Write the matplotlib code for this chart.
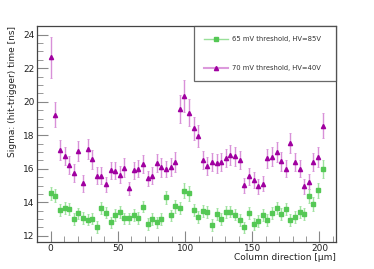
import matplotlib.pyplot as plt
import numpy as np
from matplotlib.ticker import MultipleLocator

# column positions [um]
pos = np.arange(60) * 3.43

sigma_65 = [14.53, 14.39, 13.53, 13.64, 13.61, 13.00, 13.34, 13.06, 12.97, 13.03,
            12.54, 13.67, 13.39, 12.80, 13.24, 13.41, 13.04, 13.04, 13.26, 13.06,
            13.75, 12.71, 13.00, 12.80, 13.00, 14.29, 13.22, 13.76, 13.66, 14.69,
            14.53, 13.53, 13.13, 13.49, 13.41, 12.66, 13.31, 13.01, 13.41, 13.45,
            13.27, 12.93, 12.50, 13.35, 12.71, 12.87, 13.25, 12.95, 13.37, 13.65,
            13.29, 13.59, 12.95, 13.11, 13.43, 13.29, 14.37, 13.91, 14.73, 16.00]
err_65 = [0.40, 0.40, 0.35, 0.35, 0.35, 0.35, 0.35, 0.35, 0.35, 0.35,
          0.35, 0.35, 0.35, 0.35, 0.35, 0.35, 0.35, 0.35, 0.35, 0.35,
          0.35, 0.35, 0.35, 0.35, 0.35, 0.40, 0.35, 0.40, 0.35, 0.45,
          0.45, 0.35, 0.35, 0.35, 0.35, 0.35, 0.35, 0.35, 0.35, 0.35,
          0.35, 0.35, 0.35, 0.35, 0.35, 0.35, 0.35, 0.35, 0.35, 0.35,
          0.35, 0.35, 0.35, 0.35, 0.35, 0.35, 0.40, 0.40, 0.45, 0.55]

sigma_70 = [22.65, 19.22, 17.12, 16.78, 16.24, 15.76, 17.06, 15.13, 17.16, 16.56,
            15.58, 15.58, 15.07, 15.92, 15.88, 15.65, 16.07, 14.83, 15.90, 16.00,
            16.28, 15.43, 15.59, 16.33, 16.08, 15.99, 16.12, 16.42, 19.58, 20.34,
            19.34, 18.41, 17.97, 16.52, 16.16, 16.40, 16.32, 16.42, 16.64, 16.84,
            16.74, 16.53, 15.02, 15.56, 15.33, 14.97, 15.11, 16.62, 16.73, 16.99,
            16.44, 16.00, 17.56, 16.42, 16.00, 14.95, 15.22, 16.39, 16.69, 18.57]
err_70 = [1.23, 0.75, 0.58, 0.55, 0.55, 0.55, 0.60, 0.50, 0.60, 0.55,
          0.50, 0.50, 0.45, 0.50, 0.50, 0.50, 0.55, 0.40, 0.50, 0.50,
          0.55, 0.45, 0.50, 0.55, 0.55, 0.50, 0.55, 0.60, 0.82, 0.95,
          0.80, 0.70, 0.65, 0.55, 0.55, 0.55, 0.55, 0.55, 0.55, 0.60,
          0.55, 0.55, 0.45, 0.50, 0.45, 0.45, 0.45, 0.55, 0.55, 0.60,
          0.55, 0.50, 0.60, 0.55, 0.50, 0.45, 0.45, 0.55, 0.60, 0.76]

labels = ["65 mV threshold, HV=85V", "70 mV threshold, HV=40V"]

fig = plt.figure(figsize=(3.74, 2.69), dpi=100)
ax = fig.add_axes([0.0997, 0.1015, 0.7987, 0.8018])

ax.errorbar(pos, sigma_65, yerr=err_65, fmt='s', color='#55c855', ms=3.2,
            ecolor='#9ee29e', elinewidth=1.0, capsize=1, capthick=0.6,
            label=labels[0])
ax.errorbar(pos, sigma_70, yerr=err_70, fmt='^', color='#a000a0', ms=3.0,
            ecolor='#d890d8', elinewidth=1.0, capsize=1, capthick=0.6,
            label=labels[1])

ax.set_xlim(-10, 212.3)
ax.set_ylim(11.65, 24.52)
ax.xaxis.set_major_locator(MultipleLocator(50))
ax.xaxis.set_minor_locator(MultipleLocator(10))
ax.yaxis.set_major_locator(MultipleLocator(2))
ax.yaxis.set_minor_locator(MultipleLocator(0.5))
ax.tick_params(which='both', direction='in', top=False, right=False,
               color='#888888', labelsize=6.5, labelcolor='#222222')
ax.tick_params(which='major', length=8, width=0.8, pad=2)
ax.tick_params(which='minor', length=4, width=0.6)
for s in ax.spines.values():
    s.set_color('#444444')
    s.set_linewidth(0.9)

ax.set_xlabel("Column direction [µm]", fontsize=6.5, loc='right', labelpad=0,
              color='#222222')
ax.set_ylabel("Sigma: (hit-trigger) time [ns]", fontsize=6.5, loc='top',
              labelpad=4, color='#222222')

# legend with line handles like ROOT
h1, = ax.plot([], [], '-s', color='#99e099', mfc='#55c855', mec='#55c855',
              ms=3, lw=1)
h2, = ax.plot([], [], '-^', color='#dc9adc', mfc='#a000a0', mec='#a000a0',
              ms=3, lw=1.5)
leg = ax.legend([h1, h2], labels, loc='upper left',
                bbox_to_anchor=(0.5246, 0.7358, 0.4754, 0.2642), mode='expand',
                fontsize=4.9, frameon=True, fancybox=False, borderpad=1.5,
                labelspacing=3.35, handlelength=3.5, borderaxespad=0,
                handletextpad=0.55)
leg.get_frame().set_edgecolor('#444444')
leg.get_frame().set_linewidth(0.9)
for t in leg.get_texts():
    t.set_color('#333333')

fig.savefig("out.png", dpi=100)
